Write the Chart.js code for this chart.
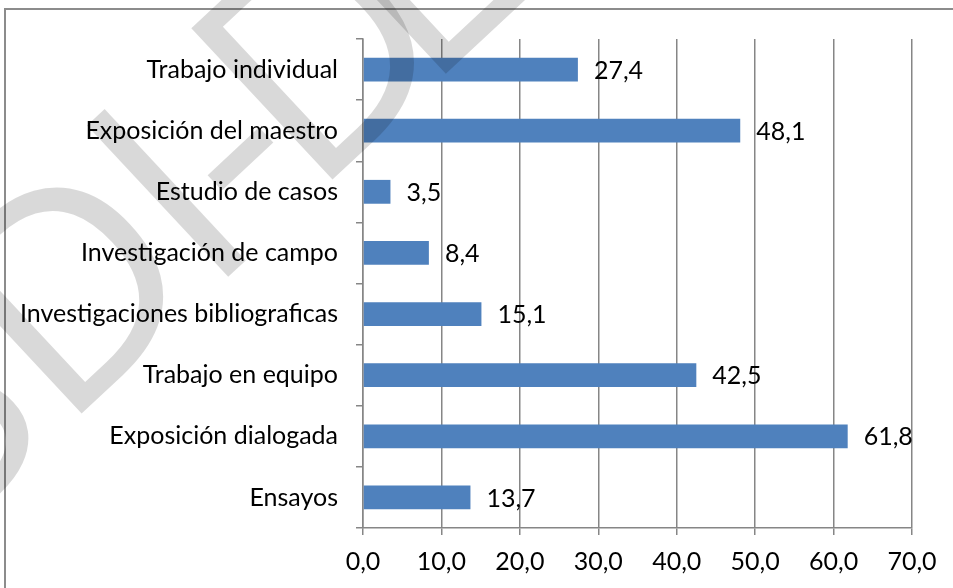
<!DOCTYPE html>
<html lang="es">
<head>
    <meta charset="UTF-8">
    <title>Estrategias de enseñanza</title>
    <script src="https://cdn.jsdelivr.net/npm/chart.js@4"></script>
    <style>
        html, body { margin: 0; padding: 0; background: #fff; overflow: hidden; }
        .wrap { position: relative; width: 953px; height: 588px; }
        .marco { position: absolute; left: 4px; top: 8px; width: 1000px; height: 700px; border: 2px solid #8c8c8c; }
        canvas { position: absolute; left: 0; top: 0; }
    </style>
</head>
<body>
    <div class="wrap">
        <div class="marco"></div>
        <canvas id="grafico" width="953" height="588"></canvas>
    </div>
    <script>
        // Datos del gráfico (porcentajes)
        const categorias = [
            'Trabajo individual',
            'Exposición del maestro',
            'Estudio de casos',
            'Investigación de campo',
            'Investigaciones bibliograficas',
            'Trabajo en equipo',
            'Exposición dialogada',
            'Ensayos'
        ];
        const valores = [27.4, 48.1, 3.5, 8.4, 15.1, 42.5, 61.8, 13.7];
        const ejeMin = 0;
        const ejeMax = 70;
        const ejePaso = 10;

        const fuente = 'Lato, "Open Sans", sans-serif';
        const gris = '#868686';

        // Etiquetas de valor al final de cada barra
        const etiquetasValor = {
            id: 'etiquetasValor',
            afterDatasetsDraw(chart) {
                const ctx = chart.ctx;
                const meta = chart.getDatasetMeta(0);
                ctx.save();
                ctx.font = '25px ' + fuente;
                ctx.fillStyle = '#000';
                ctx.textAlign = 'left';
                ctx.textBaseline = 'middle';
                meta.data.forEach((barra, i) => {
                    ctx.fillText(valores[i].toFixed(1).replace('.', ','), barra.x + 16, barra.y + 1);
                });
                ctx.restore();
            }
        };

        // Marca de agua (letras giradas, semitransparentes)
        const marcaAgua = {
            id: 'marcaAgua',
            afterDraw(chart) {
                const ctx = chart.ctx;
                const ang = -43 * Math.PI / 180;
                const dx = Math.cos(ang), dy = Math.sin(ang);
                const x0 = 80, y0 = 415;
                ctx.save();
                ctx.font = '290px "Open Sans", sans-serif';
                ctx.fillStyle = 'rgba(0,0,0,0.15)';
                const w = ch => ctx.measureText(ch).width;
                const lsb = 0.09 * 290;
                const letras = [
                    ['S', -w('S')],
                    ['D', 0],
                    ['I', w('D') - 10],
                    ['-', w('D') + w('I') - 20],
                    ['D', 343],
                    ['L', 498]
                ];
                letras.forEach(([ch, s]) => {
                    ctx.save();
                    ctx.translate(x0 + (s - lsb) * dx, y0 + (s - lsb) * dy);
                    ctx.rotate(ang);
                    ctx.fillText(ch, 0, 0);
                    ctx.restore();
                });
                ctx.restore();
            }
        };

        const ctx = document.getElementById('grafico').getContext('2d');
        new Chart(ctx, {
            type: 'bar',
            data: {
                labels: categorias,
                datasets: [{
                    data: valores,
                    backgroundColor: '#4F81BD',
                    borderWidth: 0,
                    barPercentage: 0.39,
                    categoryPercentage: 1
                }]
            },
            options: {
                indexAxis: 'y',
                responsive: false,
                animation: false,
                layout: { padding: { top: 39, right: 41, bottom: 11, left: 0 } },
                plugins: {
                    legend: { display: false },
                    tooltip: { enabled: false }
                },
                scales: {
                    x: {
                        min: ejeMin,
                        max: ejeMax,
                        ticks: {
                            stepSize: ejePaso,
                            color: '#000',
                            font: { family: fuente, size: 25 },
                            padding: 12,
                            maxRotation: 0,
                            callback: v => v.toFixed(1).replace('.', ',')
                        },
                        grid: { color: gris, lineWidth: 1.5, tickLength: 7, drawOnChartArea: true },
                        border: { color: gris, width: 1.5 },
                        afterFit(scale) { scale.height = 49; }
                    },
                    y: {
                        ticks: {
                            color: '#000',
                            font: { family: fuente, size: 25 },
                            padding: 18
                        },
                        grid: { color: gris, lineWidth: 1.5, tickLength: 7, drawOnChartArea: false, offset: true },
                        border: { color: gris, width: 1.5 },
                        afterFit(scale) { scale.width = 363; }
                    }
                }
            },
            plugins: [etiquetasValor, marcaAgua]
        });
    </script>
</body>
</html>
